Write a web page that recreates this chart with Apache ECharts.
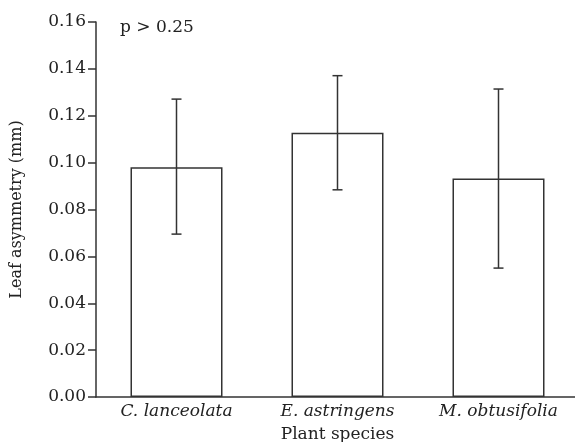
<!DOCTYPE html>
<html>
<head>
<meta charset="utf-8">
<script src="https://cdn.jsdelivr.net/npm/echarts@6/dist/echarts.min.js"></script>
<style>
  html, body { margin: 0; padding: 0; background: #fff; }
  #chart { width: 575px; height: 442px; }
</style>
</head>
<body>
<div id="chart"></div>
<script>
// data
var species = ['C. lanceolata', 'E. astringens', 'M. obtusifolia'];
var means = [0.098, 0.1128, 0.0932];
var errLow = [0.0695, 0.0884, 0.0550];
var errHigh = [0.1271, 0.1371, 0.1314];

var ink = '#333';
var font = 'DejaVu Serif';

var dom = echarts.init(document.getElementById('chart'));

var errData = species.map(function (s, i) { return [i, errLow[i], errHigh[i]]; });

dom.setOption({
  animation: false,
  textStyle: { fontFamily: font },
  title: {
    text: 'p > 0.25',
    left: 115, top: 14,
    textStyle: { fontFamily: font, fontSize: 17, fontWeight: 'normal', color: '#222' }
  },
  grid: { left: 96, top: 22, width: 483, height: 375, containLabel: false, outerBoundsMode: 'none' },
  xAxis: {
    type: 'category',
    data: species,
    name: 'Plant species',
    nameLocation: 'middle',
    nameGap: 29,
    nameTextStyle: { fontFamily: font, fontSize: 17, color: '#222' },
    axisLine: { lineStyle: { color: ink, width: 1.5 } },
    axisTick: { length: 7, lineStyle: { color: ink, width: 1.5 } },
    axisLabel: { fontFamily: font, fontStyle: 'italic', fontSize: 17, color: '#222', margin: 6 }
  },
  yAxis: {
    type: 'value',
    min: 0, max: 0.16, interval: 0.02,
    name: 'Leaf asymmetry (mm)',
    nameLocation: 'middle',
    nameGap: 71,
    nameTextStyle: { fontFamily: font, fontSize: 16, color: '#222' },
    splitLine: { show: false },
    axisLine: { show: true, lineStyle: { color: ink, width: 1.5 } },
    axisTick: { show: true, length: 8, lineStyle: { color: ink, width: 1.5 } },
    axisLabel: {
      fontFamily: font, fontSize: 17, color: '#222', margin: 10,
      formatter: function (v) { return v.toFixed(2); }
    }
  },
  series: [
    {
      type: 'bar',
      data: means,
      barWidth: 92,
      itemStyle: { color: '#fff', borderColor: ink, borderWidth: 1.5 }
    },
    {
      type: 'custom',
      data: errData,
      z: 10,
      renderItem: function (params, api) {
        var x = api.value(0);
        var lo = api.coord([x, api.value(1)]);
        var hi = api.coord([x, api.value(2)]);
        var cap = 5;
        var st = { stroke: ink, lineWidth: 1.5 };
        return {
          type: 'group',
          children: [
            { type: 'line', shape: { x1: lo[0], y1: lo[1], x2: hi[0], y2: hi[1] }, style: st },
            { type: 'line', shape: { x1: hi[0] - cap, y1: hi[1], x2: hi[0] + cap, y2: hi[1] }, style: st },
            { type: 'line', shape: { x1: lo[0] - cap, y1: lo[1], x2: lo[0] + cap, y2: lo[1] }, style: st }
          ]
        };
      }
    }
  ]
});
</script>
</body>
</html>
